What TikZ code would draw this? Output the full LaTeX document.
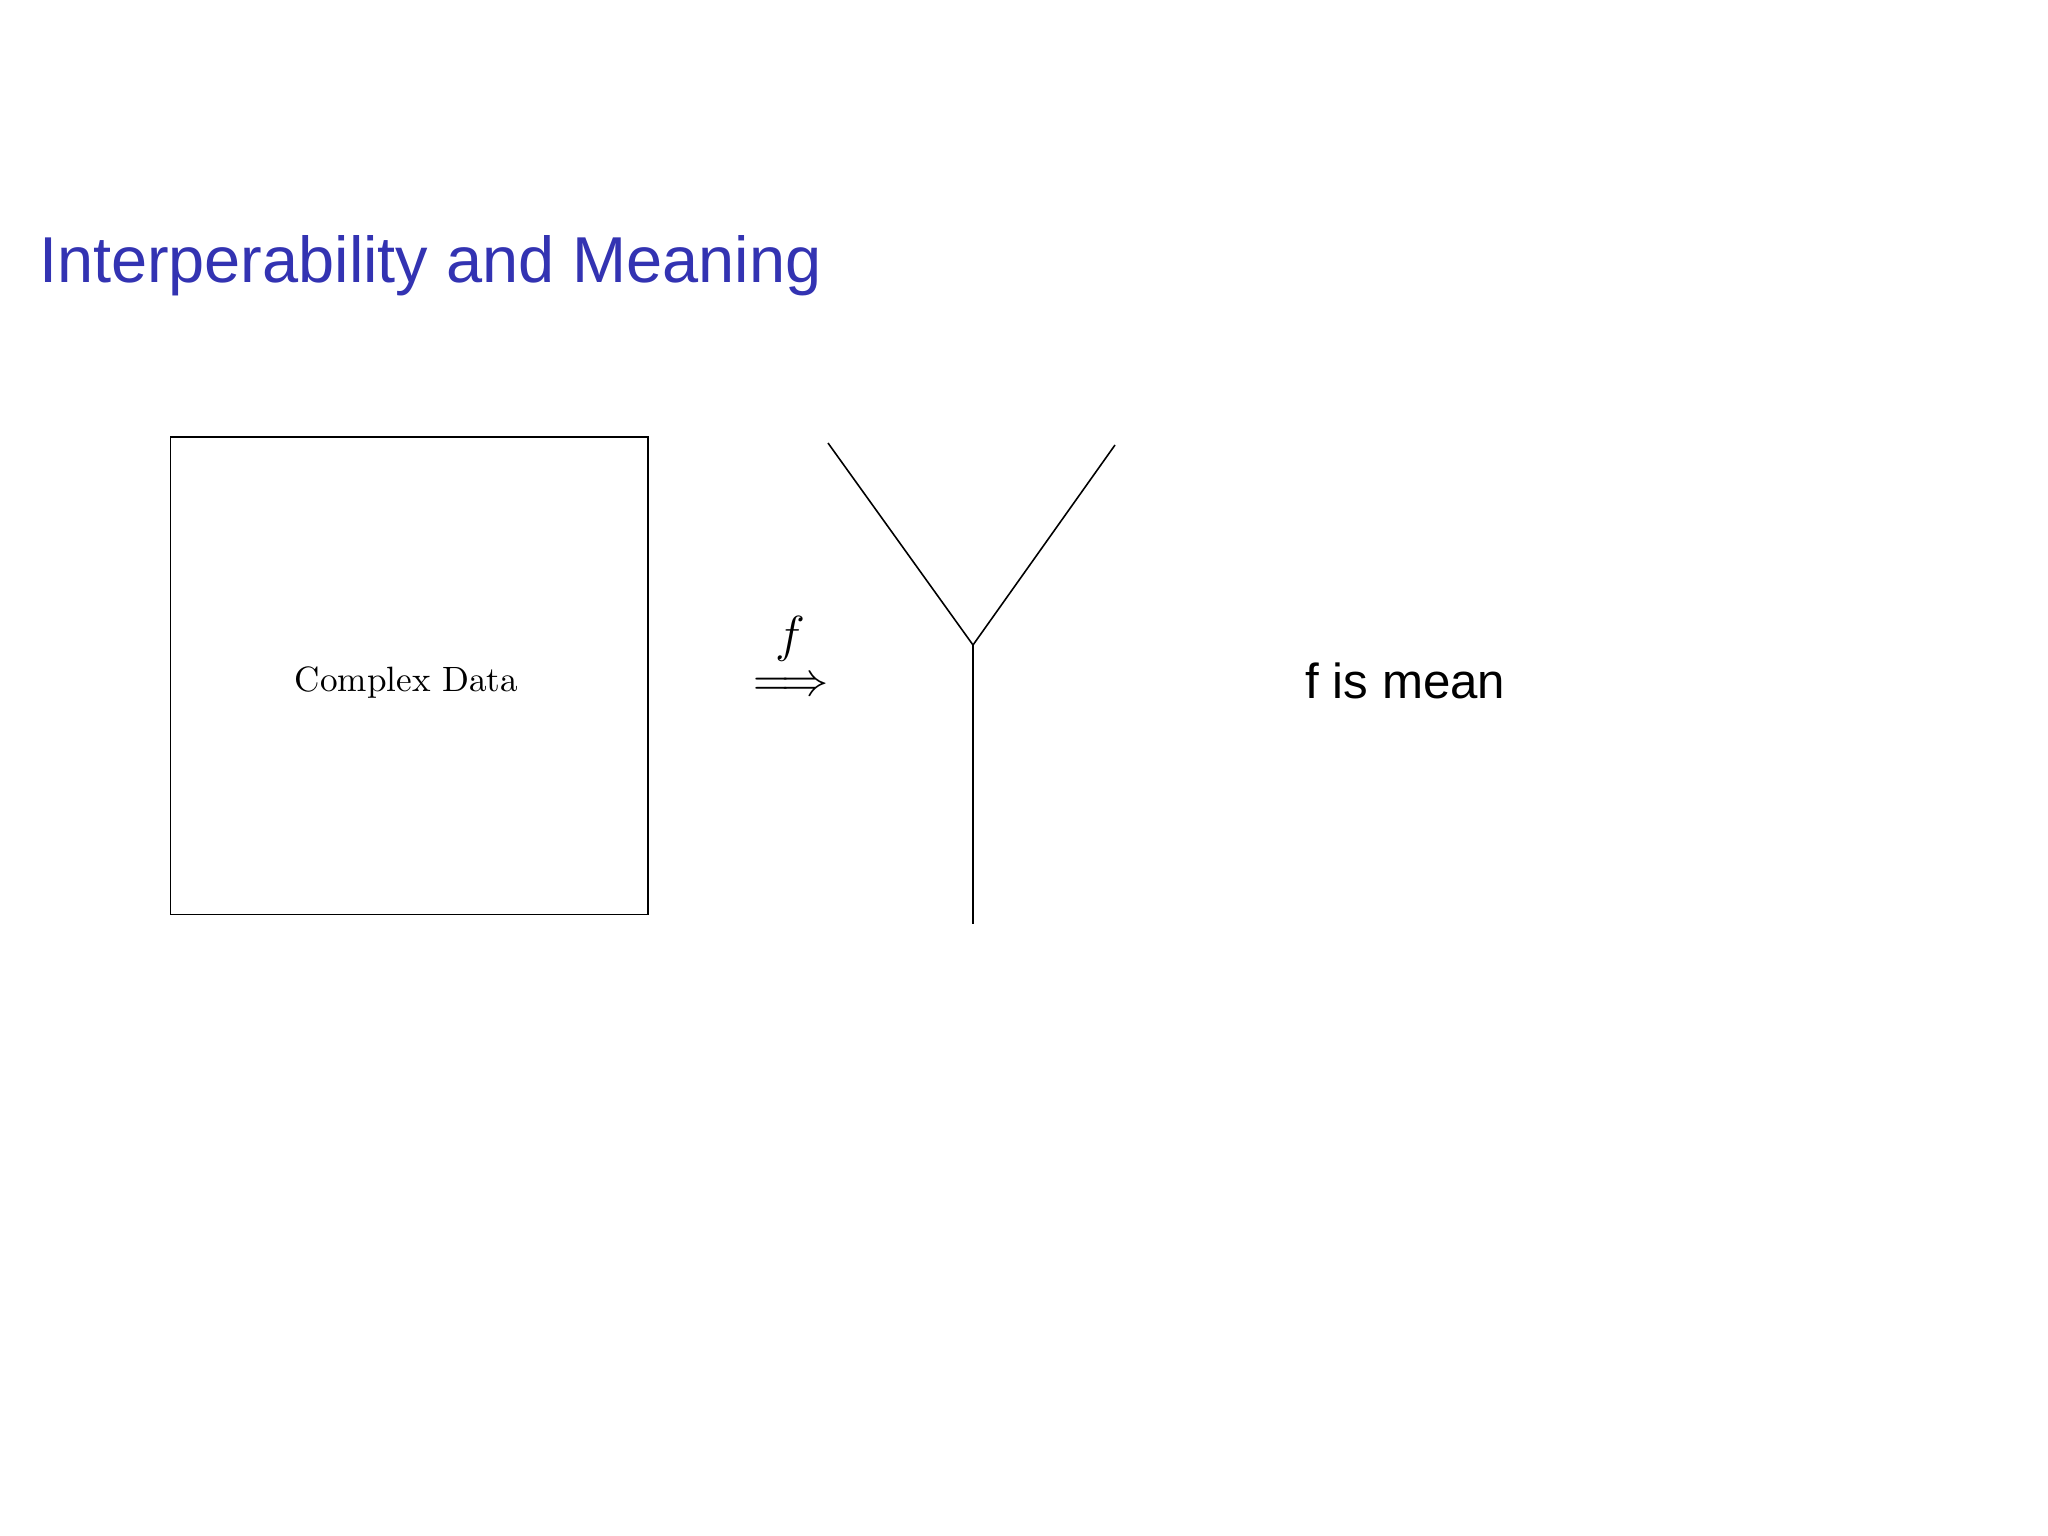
\documentclass[tikz,border=0pt]{standalone}
\usepackage{fontspec}
\usepackage{graphicx}
\newfontfamily\sansfnt{Liberation Sans}
\definecolor{titleblue}{RGB}{51,51,178}
\tikzset{
  px/.style={x=0.01cm,y=-0.01cm},
  thinline/.style={line width=0.45pt, black},
  boxline/.style={draw, line width=0.5pt, black, inner sep=0pt},
  txt/.style={inner sep=0pt, outer sep=0pt}
}
\begin{document}
\begin{tikzpicture}[px]
\useasboundingbox (0,0) rectangle (2048,1536);
\fill[white] (0,0) rectangle (2048,1536);
% title
\node[txt, anchor=base west, text=titleblue, font=\sansfnt\fontsize{18.45}{22}\selectfont] (title) at (39,282) {Interperability and Meaning};
% data box
\node[boxline, minimum width=4.773cm, minimum height=4.77cm] (box) at (409.35,675.8) {};
\node[txt, anchor=base, font=\fontsize{10}{12}\selectfont] (cd) at (406.5,691.7) {Complex Data};
% mapping arrow
\node[txt, anchor=base] (arr) at (791,695) {\resizebox{0.76cm}{!}{$\Longrightarrow$}};
\node[txt, anchor=base] (flab) at (790,651) {\fontsize{15.4}{18}\selectfont\smash{$f$}};
% Y shape
\coordinate (ytl) at (828,443);
\coordinate (ytr) at (1115,445);
\coordinate (yj) at (973,645);
\coordinate (yb) at (973,924);
\draw[thinline] (ytl) -- (yj) -- (ytr);
\draw[thinline] (yj) -- (yb);
% right text
\node[txt, anchor=base west, font=\sansfnt\fontsize{14}{17}\selectfont] (mean) at (1305.5,698.3) {f is mean};
\end{tikzpicture}
\end{document}
